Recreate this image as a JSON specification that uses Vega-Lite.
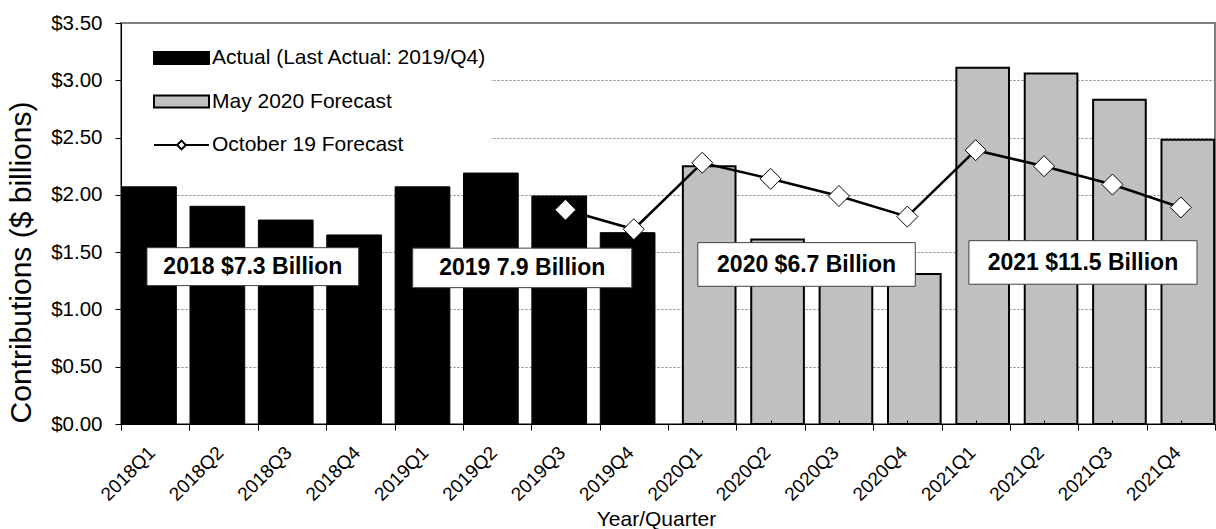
{
  "$schema": "https://vega.github.io/schema/vega-lite/v6.json",
  "width": 1094,
  "height": 401,
  "autosize": {"type": "none"},
  "padding": {"left": 121, "top": 23, "right": 1, "bottom": 105},
  "background": "white",
  "config": {
    "font": "Liberation Sans",
    "view": {"stroke": "#808080", "strokeWidth": 2},
    "axis": {
      "labelFont": "Liberation Sans",
      "titleFont": "Liberation Sans",
      "labelColor": "black",
      "titleColor": "black",
      "titleFontWeight": "normal",
      "domainColor": "black",
      "tickColor": "black"
    }
  },
  "datasets": {
    "bars": [
      {"q": "2018Q1", "series": "Actual (Last Actual: 2019/Q4)", "v": 2.07},
      {"q": "2018Q2", "series": "Actual (Last Actual: 2019/Q4)", "v": 1.90},
      {"q": "2018Q3", "series": "Actual (Last Actual: 2019/Q4)", "v": 1.78},
      {"q": "2018Q4", "series": "Actual (Last Actual: 2019/Q4)", "v": 1.65},
      {"q": "2019Q1", "series": "Actual (Last Actual: 2019/Q4)", "v": 2.07},
      {"q": "2019Q2", "series": "Actual (Last Actual: 2019/Q4)", "v": 2.19},
      {"q": "2019Q3", "series": "Actual (Last Actual: 2019/Q4)", "v": 1.99},
      {"q": "2019Q4", "series": "Actual (Last Actual: 2019/Q4)", "v": 1.67},
      {"q": "2020Q1", "series": "May 2020 Forecast", "v": 2.25},
      {"q": "2020Q2", "series": "May 2020 Forecast", "v": 1.61},
      {"q": "2020Q3", "series": "May 2020 Forecast", "v": 1.53},
      {"q": "2020Q4", "series": "May 2020 Forecast", "v": 1.31},
      {"q": "2021Q1", "series": "May 2020 Forecast", "v": 3.11},
      {"q": "2021Q2", "series": "May 2020 Forecast", "v": 3.06},
      {"q": "2021Q3", "series": "May 2020 Forecast", "v": 2.83},
      {"q": "2021Q4", "series": "May 2020 Forecast", "v": 2.48}
    ],
    "october": [
      {"q": "2019Q3", "series": "October 19 Forecast", "v": 1.87},
      {"q": "2019Q4", "series": "October 19 Forecast", "v": 1.70},
      {"q": "2020Q1", "series": "October 19 Forecast", "v": 2.28},
      {"q": "2020Q2", "series": "October 19 Forecast", "v": 2.14},
      {"q": "2020Q3", "series": "October 19 Forecast", "v": 1.99},
      {"q": "2020Q4", "series": "October 19 Forecast", "v": 1.81},
      {"q": "2021Q1", "series": "October 19 Forecast", "v": 2.39},
      {"q": "2021Q2", "series": "October 19 Forecast", "v": 2.25},
      {"q": "2021Q3", "series": "October 19 Forecast", "v": 2.09},
      {"q": "2021Q4", "series": "October 19 Forecast", "v": 1.89}
    ],
    "notes": [
      {"label": "2018 $7.3 Billion", "x0": 0.38, "x1": 3.476, "y0": 1.208, "y1": 1.539, "xc": 1.928, "yc": 1.372},
      {"label": "2019 7.9 Billion", "x0": 4.266, "x1": 7.47, "y0": 1.19, "y1": 1.535, "xc": 5.868, "yc": 1.36},
      {"label": "2020 $6.7 Billion", "x0": 8.436, "x1": 11.617, "y0": 1.202, "y1": 1.583, "xc": 10.026, "yc": 1.39},
      {"label": "2021 $11.5 Billion", "x0": 12.401, "x1": 15.737, "y0": 1.22, "y1": 1.6, "xc": 14.069, "yc": 1.405}
    ]
  },
  "layer": [
    {
      "layer": [
        {
          "data": {"name": "bars"},
          "transform": [{"filter": "datum.series === 'Actual (Last Actual: 2019/Q4)'"}],
          "mark": {"type": "bar", "width": {"band": 0.8}, "xOffset": -6.2, "stroke": "black", "strokeWidth": 1, "opacity": 1},
          "encoding": {
            "x": {
              "field": "q", "type": "nominal",
              "scale": {"domain": ["2018Q1","2018Q2","2018Q3","2018Q4","2019Q1","2019Q2","2019Q3","2019Q4","2020Q1","2020Q2","2020Q3","2020Q4","2021Q1","2021Q2","2021Q3","2021Q4"], "paddingInner": 0, "paddingOuter": 0},
              "axis": {
                "title": "Year/Quarter",
                "titleFontSize": 21,
                "titleBaseline": "alphabetic",
                "titleY": 101,
                "titleX": 535,
                "labelAngle": -45,
                "labelAlign": "right",
                "labelBaseline": "top",
                "labelFontSize": 19,
                "labelPadding": 13,
                "labelOffset": -10,
                "tickBand": "extent",
                "tickSize": 6,
                "grid": false,
                "zindex": 1
              }
            },
            "y": {
              "field": "v", "type": "quantitative",
              "scale": {"domain": [0, 3.5], "nice": false, "zero": true},
              "axis": {
                "title": "Contributions ($ billions)",
                "titleFontSize": 30,
                "titleBaseline": "alphabetic",
                "titleAngle": -90,
                "titleX": -91,
                "titleY": 239,
                "titleAlign": "center",
                "labelFontSize": 20.5,
                "labelPadding": 13,
                "format": "$.2f",
                "values": [0, 0.5, 1, 1.5, 2, 2.5, 3, 3.5],
                "tickSize": 6,
                "grid": true,
                "gridDash": [2, 2],
                "gridColor": "#808080",
                "gridWidth": 1
              }
            },
            "fill": {
              "field": "series", "type": "nominal",
              "scale": {"domain": ["Actual (Last Actual: 2019/Q4)", "May 2020 Forecast", "October 19 Forecast"], "range": ["black", "#c0c0c0", "white"]},
              "legend": {
                "title": null,
                "orient": "none",
                "legendX": 1,
                "legendY": 15,
                "fillColor": "white",
                "padding": 4,
                "symbolSize": 900,
                "symbolType": {"expr": "datum.value === 'October 19 Forecast' ? 'M-1.833,0H-0.29M0.29,0H1.833M-0.29,0L0,-0.29L0.29,0L0,0.29Z' : 'M-1.833,-0.4H1.833V0.4H-1.833Z'"},
                "symbolStrokeColor": "black",
                "symbolStrokeWidth": 2,
                "symbolOffset": 39.5,
                "labelOffset": 14.5,
                "labelFont": "Liberation Sans",
                "labelFontSize": 21,
                "labelColor": "black",
                "labelLimit": 0,
                "rowPadding": 17.5
              }
            }
          }
        },
        {
          "data": {"name": "bars"},
          "transform": [{"filter": "datum.series === 'May 2020 Forecast'"}],
          "mark": {"type": "bar", "width": {"band": 0.77}, "xOffset": 7, "stroke": "black", "strokeWidth": 2, "opacity": 1},
          "encoding": {
            "x": {"field": "q", "type": "nominal"},
            "y": {"field": "v", "type": "quantitative"},
            "fill": {"field": "series", "type": "nominal"}
          }
        },
        {
          "data": {"name": "october"},
          "mark": {"type": "line", "color": "black", "strokeWidth": 2.5},
          "encoding": {
            "x": {"field": "q", "type": "nominal"},
            "y": {"field": "v", "type": "quantitative"}
          }
        },
        {
          "data": {"name": "october"},
          "mark": {"type": "point", "shape": "diamond", "size": 441, "filled": true, "fill": "white", "stroke": "black", "strokeWidth": 1, "opacity": 1},
          "encoding": {
            "x": {"field": "q", "type": "nominal"},
            "y": {"field": "v", "type": "quantitative"}
          }
        }
      ]
    },
    {
      "layer": [
        {
          "data": {"name": "notes"},
          "mark": {"type": "rect", "fill": "white", "stroke": "#404040", "strokeWidth": 1},
          "encoding": {
            "x": {
              "field": "x0", "type": "quantitative",
              "scale": {"domain": [0, 16], "nice": false, "zero": false},
              "axis": {
                "orient": "bottom",
                "values": [0.5, 1.5, 2.5, 3.5, 4.5, 5.5, 6.5, 7.5, 8.5, 9.5, 10.5, 11.5, 12.5, 13.5, 14.5, 15.5],
                "labels": false,
                "domain": false,
                "grid": false,
                "title": null,
                "tickSize": -4,
                "tickWidth": 1,
                "tickColor": "black",
                "zindex": 1
              }
            },
            "x2": {"field": "x1"},
            "y": {"field": "y0", "type": "quantitative"},
            "y2": {"field": "y1"}
          }
        },
        {
          "data": {"name": "notes"},
          "mark": {"type": "text", "font": "Liberation Sans", "fontWeight": "bold", "fontSize": 23, "color": "black", "align": "center", "baseline": "middle"},
          "encoding": {
            "x": {"field": "xc", "type": "quantitative"},
            "y": {"field": "yc", "type": "quantitative"},
            "text": {"field": "label"}
          }
        }
      ]
    }
  ],
  "resolve": {"scale": {"x": "independent"}}
}
